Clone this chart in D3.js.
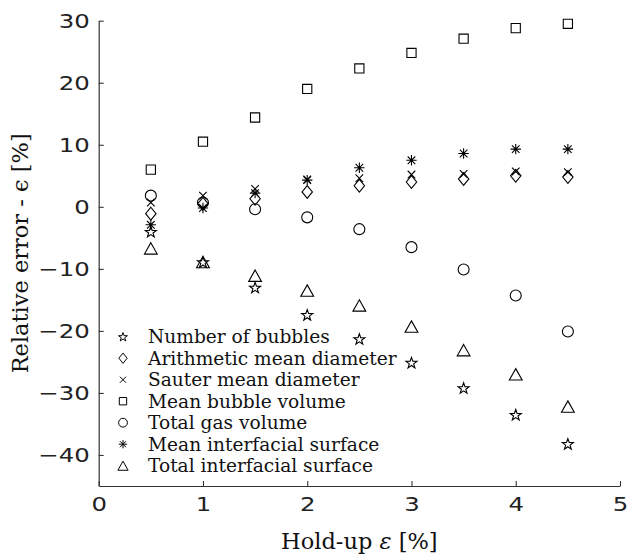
<!DOCTYPE html>
<html>
<head>
<meta charset="utf-8">
<script src="https://cdn.jsdelivr.net/npm/d3@7"></script>
<style>
  body { margin: 0; background: #fff; }
  svg { display: block; }
</style>
</head>
<body>
<svg id="chart" width="627" height="556"></svg>
<script>
// Hold-up values (%) at which each relative error was evaluated
const holdUp = [0.5, 1, 1.5, 2, 2.5, 3, 3.5, 4, 4.5];

// Relative error (%) per quantity
const numberOfBubbles      = [-4.0, -8.9, -13.0, -17.4, -21.3, -25.1, -29.2, -33.5, -38.2];
const arithmeticMeanDiam   = [-1.1,  0.5,   1.3,   2.4,   3.4,   4.0,   4.5,   5.0,   4.8];
const sauterMeanDiam       = [ 0.7,  1.8,   2.9,   4.4,   4.6,   5.2,   5.3,   5.7,   5.6];
const meanBubbleVolume     = [ 6.0, 10.5,  14.4,  19.0,  22.3,  24.8,  27.1,  28.8,  29.5];
const totalGasVolume       = [ 1.8,  0.7,  -0.4,  -1.7,  -3.6,  -6.5, -10.1, -14.3, -20.1];
const meanInterfacialSurf  = [-2.9, -0.2,   2.2,   4.3,   6.3,   7.5,   8.6,   9.3,   9.3];
const totalInterfacialSurf = [-6.7, -8.9, -11.1, -13.5, -15.9, -19.3, -23.1, -27.0, -32.2];

const seriesNames = [
  "Number of bubbles",
  "Arithmetic mean diameter",
  "Sauter mean diameter",
  "Mean bubble volume",
  "Total gas volume",
  "Mean interfacial surface",
  "Total interfacial surface"
];
const seriesMarkers = ["star", "diamond", "times", "square", "circle", "asterisk", "triangle"];
const seriesValues = [
  numberOfBubbles, arithmeticMeanDiam, sauterMeanDiam, meanBubbleVolume,
  totalGasVolume, meanInterfacialSurf, totalInterfacialSurf
];

const xTicks = [0, 1, 2, 3, 4, 5];
const yTicks = [-40, -30, -20, -10, 0, 10, 20, 30];

const svg = d3.select("#chart");

const x = d3.scaleLinear().domain([0, 5]).range([98.7, 620]);
const y = d3.scaleLinear().domain([-45, 30]).range([486, 20.7]);

// Marker outlines, centred on the origin; k scales the glyph
function markerPath(type, k = 1) {
  const p = d3.path();
  if (type === "square") {
    const h = 4.6 * k;
    p.rect(-h, -h, 2 * h, 2 * h);
  } else if (type === "circle") {
    const r = 5.5 * k;
    p.moveTo(r, 0); p.arc(0, 0, r, 0, 2 * Math.PI);
  } else if (type === "diamond") {
    const w = 5.2 * k, h = 6.4 * k;
    p.moveTo(0, -h); p.lineTo(w, 0); p.lineTo(0, h); p.lineTo(-w, 0); p.closePath();
  } else if (type === "triangle") {
    const w = 6.4 * k, h = 5.7 * k;
    p.moveTo(0, -h); p.lineTo(w, h); p.lineTo(-w, h); p.closePath();
  } else if (type === "star") {
    const R = 5.8 * k, r = R * 0.4;
    for (let i = 0; i < 10; i++) {
      const a = -Math.PI / 2 + i * Math.PI / 5;
      const rr = i % 2 === 0 ? R : r;
      const px = rr * Math.cos(a), py = rr * Math.sin(a) + 0.6 * k;
      if (i === 0) p.moveTo(px, py); else p.lineTo(px, py);
    }
    p.closePath();
  } else if (type === "times") {
    const h = 3.8 * k;
    p.moveTo(-h, -h); p.lineTo(h, h); p.moveTo(-h, h); p.lineTo(h, -h);
  } else if (type === "asterisk") {
    const h = 5.2 * k, d = 3.8 * k;
    p.moveTo(0, -h); p.lineTo(0, h); p.moveTo(-h, 0); p.lineTo(h, 0);
    p.moveTo(-d, -d); p.lineTo(d, d); p.moveTo(-d, d); p.lineTo(d, -d);
  }
  return p.toString();
}

// Axes: ticks point inward, labels in a wide sans face
const intFormat = d3.format("d");
const yAxis = d3.axisLeft(y).tickValues(yTicks).tickFormat(intFormat)
  .tickSizeInner(-5).tickSizeOuter(0).tickPadding(0);
const xAxis = d3.axisBottom(x).tickValues(xTicks).tickFormat(intFormat)
  .tickSizeInner(-5).tickSizeOuter(0).tickPadding(0);

const tickFont = "'DejaVu Sans', sans-serif";
const stretch = 1.22;

const gy = svg.append("g").attr("transform", `translate(${x(0)},0)`).call(yAxis);
const gx = svg.append("g").attr("transform", `translate(0,${y(-45)})`).call(xAxis);

[gx, gy].forEach(g => {
  g.select(".domain").attr("stroke", "#333").attr("stroke-width", 1.2);
  g.selectAll(".tick line").attr("stroke", "#333").attr("stroke-width", 1.1);
  g.selectAll(".tick text")
    .attr("font-family", tickFont)
    .attr("font-size", 20)
    .attr("fill", "#222");
});
gy.selectAll(".tick text")
  .attr("x", -9 / stretch)
  .attr("transform", `scale(${stretch},1)`);
gx.selectAll(".tick text")
  .attr("y", 11)
  .attr("transform", `scale(${stretch},1)`);

// Data markers
const markers = svg.append("g").attr("fill", "none").attr("stroke", "#000").attr("stroke-width", 1.1);
seriesValues.forEach((vals, si) => {
  markers.append("g")
    .selectAll("path")
    .data(vals.map((v, i) => ({ x: holdUp[i], y: v })))
    .join("path")
    .attr("transform", d => `translate(${x(d.x)},${y(d.y)})`)
    .attr("d", markerPath(seriesMarkers[si], 1));
});

// Legend
const legendY0 = 336.7, legendStep = 21.5;
const legend = svg.append("g");
seriesNames.forEach((name, i) => {
  const cy = legendY0 + i * legendStep;
  legend.append("path")
    .attr("transform", `translate(123,${cy})`)
    .attr("d", markerPath(seriesMarkers[i], 0.8))
    .attr("fill", "none").attr("stroke", "#000").attr("stroke-width", 1);
  legend.append("text")
    .attr("x", 148).attr("y", cy + 6.5)
    .attr("font-family", "'DejaVu Serif', serif")
    .attr("font-size", 18.6)
    .attr("fill", "#111")
    .text(name);
});

// Axis titles
const xt = svg.append("text")
  .attr("x", (x.range()[0] + x.range()[1]) / 2).attr("y", 549)
  .attr("text-anchor", "middle")
  .attr("font-family", "'DejaVu Serif', serif").attr("font-size", 22.5)
  .attr("fill", "#111");
xt.append("tspan").text("Hold-up ");
xt.append("tspan").attr("font-style", "italic").text("ε");
xt.append("tspan").text(" [%]");

const yMid = (y.range()[0] + y.range()[1]) / 2;
svg.append("text")
  .attr("transform", `translate(28,${yMid}) rotate(-90)`)
  .attr("text-anchor", "middle")
  .attr("font-family", "'DejaVu Serif', serif").attr("font-size", 22.5)
  .attr("fill", "#111")
  .text("Relative error - ϵ [%]");
</script>
</body>
</html>
